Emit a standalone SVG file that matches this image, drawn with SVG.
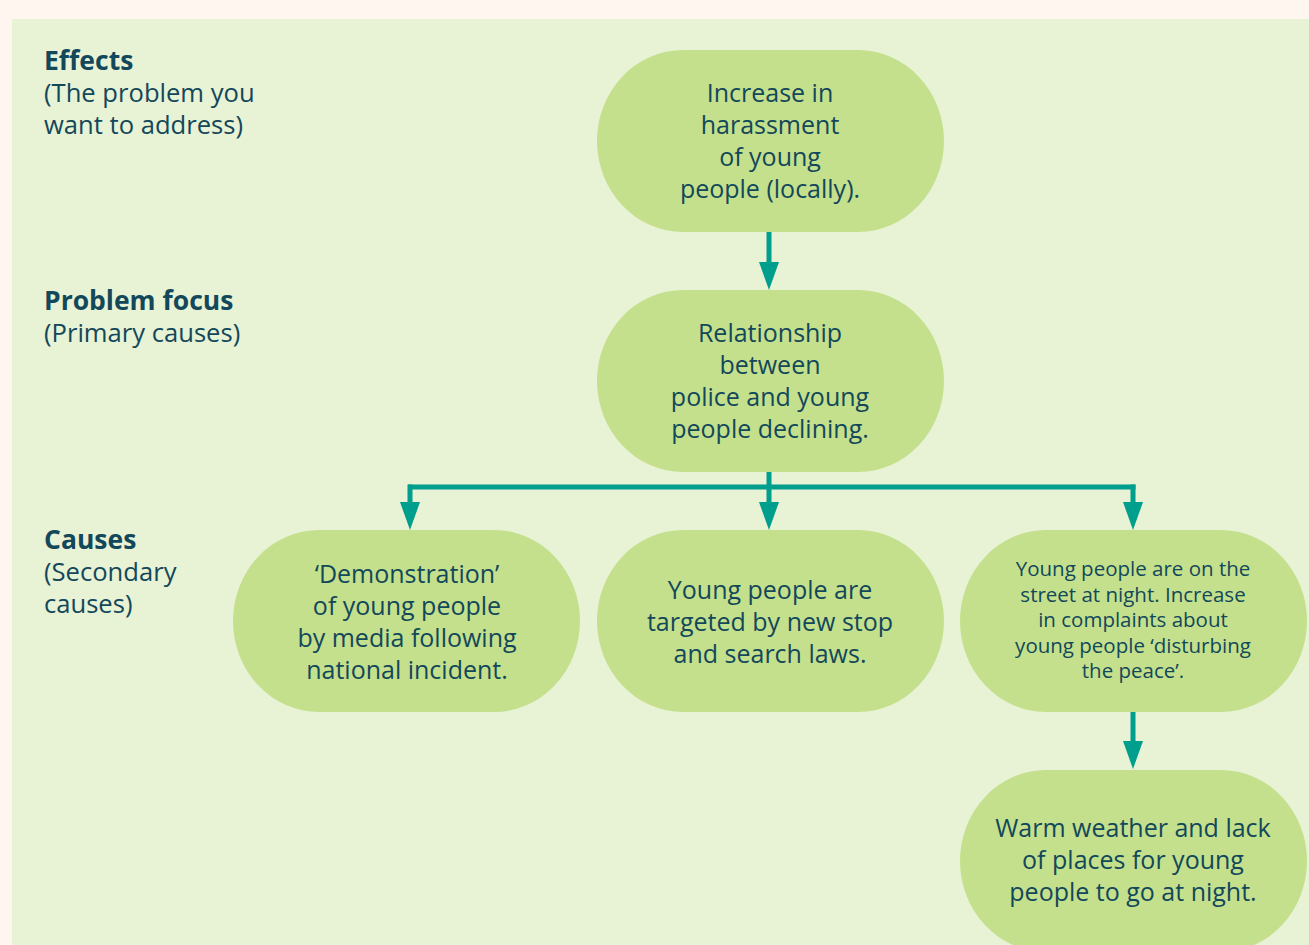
<svg xmlns="http://www.w3.org/2000/svg" width="1309" height="945" viewBox="0 0 1309 945">
  <defs>
    <style>
      .panel { fill: #E8F2D5; }
      .node { fill: #C4E08C; }
      .txt { font-family: "Open Sans", "Noto Sans", "Liberation Sans", sans-serif; fill: #12485A; font-size: 25px; text-anchor: middle; }
      .small { font-size: 20.5px; }
      .lbl { font-family: "Open Sans", "Noto Sans", "Liberation Sans", sans-serif; fill: #12485A; font-size: 25.6px; }
      .lbl .hd { font-weight: bold; font-size: 26.5px; }
      .conn { stroke: #009E8C; stroke-width: 5; fill: none; }
    </style>
    <marker id="arrow" viewBox="0 0 28 20" refX="18" refY="10" markerWidth="28" markerHeight="20" markerUnits="userSpaceOnUse" orient="auto">
      <path d="M0,0 L28,10 L0,20 z" fill="#009E8C"/>
    </marker>
  </defs>

  <!-- page and panel -->
  <rect x="0" y="0" width="1309" height="945" fill="#FEF6EF"/>
  <rect class="panel" x="12" y="19" width="1297" height="926"/>

  <!-- row labels -->
  <g id="label-effects" class="lbl">
    <text x="44" y="70" class="hd">Effects</text>
    <text x="44" y="102">(The problem you</text>
    <text x="44" y="134">want to address)</text>
  </g>
  <g id="label-problem" class="lbl">
    <text x="44" y="310" class="hd">Problem focus</text>
    <text x="44" y="342">(Primary causes)</text>
  </g>
  <g id="label-causes" class="lbl">
    <text x="44" y="549" class="hd">Causes</text>
    <text x="44" y="581">(Secondary</text>
    <text x="44" y="613">causes)</text>
  </g>

  <!-- connectors -->
  <g id="connectors">
    <line class="conn" x1="769" y1="232" x2="769" y2="280" marker-end="url(#arrow)"/>
    <line class="conn" x1="769" y1="472" x2="769" y2="520" marker-end="url(#arrow)"/>
    <line class="conn" x1="408" y1="487" x2="1135.5" y2="487"/>
    <line class="conn" x1="410" y1="484.5" x2="410" y2="520" marker-end="url(#arrow)"/>
    <line class="conn" x1="1133" y1="484.5" x2="1133" y2="520" marker-end="url(#arrow)"/>
    <line class="conn" x1="1133" y1="712" x2="1133" y2="759" marker-end="url(#arrow)"/>
  </g>

  <!-- nodes -->
  <g id="node-effect">
    <rect class="node" x="597" y="50" width="347" height="182" rx="86" ry="91"/>
    <text class="txt" x="770" y="102">Increase in</text>
    <text class="txt" x="770" y="134">harassment</text>
    <text class="txt" x="770" y="166">of young</text>
    <text class="txt" x="770" y="198">people (locally).</text>
  </g>
  <g id="node-problem">
    <rect class="node" x="597" y="290" width="347" height="182" rx="86" ry="91"/>
    <text class="txt" x="770" y="342">Relationship</text>
    <text class="txt" x="770" y="374">between</text>
    <text class="txt" x="770" y="406">police and young</text>
    <text class="txt" x="770" y="438">people declining.</text>
  </g>
  <g id="node-media">
    <rect class="node" x="233" y="530" width="347" height="182" rx="86" ry="91"/>
    <text class="txt" x="407" y="583">‘Demonstration’</text>
    <text class="txt" x="407" y="615">of young people</text>
    <text class="txt" x="407" y="647">by media following</text>
    <text class="txt" x="407" y="679">national incident.</text>
  </g>
  <g id="node-stop-search">
    <rect class="node" x="597" y="530" width="347" height="182" rx="86" ry="91"/>
    <text class="txt" x="770" y="599">Young people are</text>
    <text class="txt" x="770" y="631">targeted by new stop</text>
    <text class="txt" x="770" y="663">and search laws.</text>
  </g>
  <g id="node-street">
    <rect class="node" x="960" y="530" width="347" height="182" rx="86" ry="91"/>
    <text class="txt small" x="1133" y="576">Young people are on the</text>
    <text class="txt small" x="1133" y="602">street at night. Increase</text>
    <text class="txt small" x="1133" y="627">in complaints about</text>
    <text class="txt small" x="1133" y="653">young people ‘disturbing</text>
    <text class="txt small" x="1133" y="678">the peace’.</text>
  </g>
  <g id="node-weather">
    <rect class="node" x="960" y="770" width="347" height="182" rx="86" ry="91"/>
    <text class="txt" x="1133" y="837">Warm weather and lack</text>
    <text class="txt" x="1133" y="869">of places for young</text>
    <text class="txt" x="1133" y="901">people to go at night.</text>
  </g>
</svg>
